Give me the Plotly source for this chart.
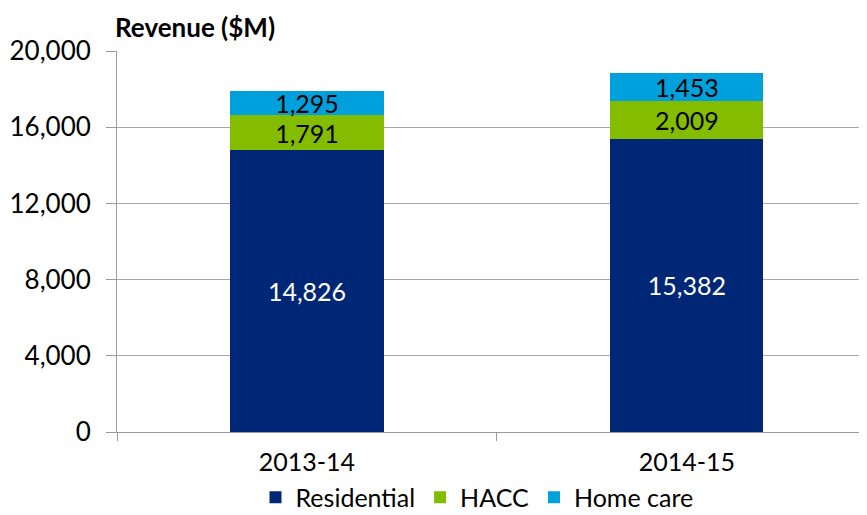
import plotly.graph_objects as go

categories = ["2013-14", "2014-15"]
residential = [14826, 15382]
hacc = [1791, 2009]
home_care = [1295, 1453]
y_ticks = [0, 4000, 8000, 12000, 16000, 20000]
y_tick_labels = ["0", "4,000", "8,000", "12,000", "16,000", "20,000"]

FONT = "Lato, Carlito, Calibri, sans-serif"
FS = 25

def fmt(vals):
    return [f"{v:,}" for v in vals]

fig = go.Figure()
for name, vals, col, tcol in [("Residential", residential, "#002776", "white"),
                              ("HACC", hacc, "#84BD00", "black"),
                              ("Home care", home_care, "#00A0DC", "black")]:
    fig.add_trace(go.Bar(name=name, x=categories, y=vals, marker_color=col,
                         marker_line_width=0,
                         text=fmt(vals), textposition="inside", insidetextanchor="middle",
                         constraintext="none", cliponaxis=False,
                         textfont=dict(color=tcol, size=FS, family=FONT), width=0.403))

fig.update_layout(
    barmode="stack",
    width=859, height=507,
    margin=dict(l=109, r=0, t=43, b=83, autoexpand=False),
    plot_bgcolor="white", paper_bgcolor="white",
    font=dict(family=FONT, size=FS, color="black"),
    showlegend=True,
    legend=dict(orientation="h", x=0.48, xanchor="center",
                y=-0.172, yanchor="middle", tracegroupgap=0,
                font=dict(size=FS, family=FONT), traceorder="normal", itemwidth=30),
    xaxis=dict(range=[-0.5, 1.474], showline=True, linecolor="#999999", linewidth=1,
               ticks="outside", tickson="boundaries", ticklen=8, tickcolor="#999999",
               ticklabelstandoff=8,
               tickfont=dict(size=FS, family=FONT), automargin=False),
    yaxis=dict(range=[0, 20000], tickvals=y_ticks, ticktext=y_tick_labels,
               showline=True, linecolor="#999999", linewidth=1,
               ticks="outside", ticklen=10, tickcolor="#999999",
               ticklabelstandoff=10,
               showgrid=True, gridcolor="#A6A6A6", gridwidth=1,
               tickfont=dict(size=26, family=FONT), zeroline=False, automargin=False),
    annotations=[dict(text="<b>Revenue ($M)</b>", x=-0.005, xref="paper", xanchor="left",
                      y=1.015, yref="paper", yanchor="bottom",
                      showarrow=False, font=dict(size=26, family=FONT))],
)

fig.write_html("out.html")
